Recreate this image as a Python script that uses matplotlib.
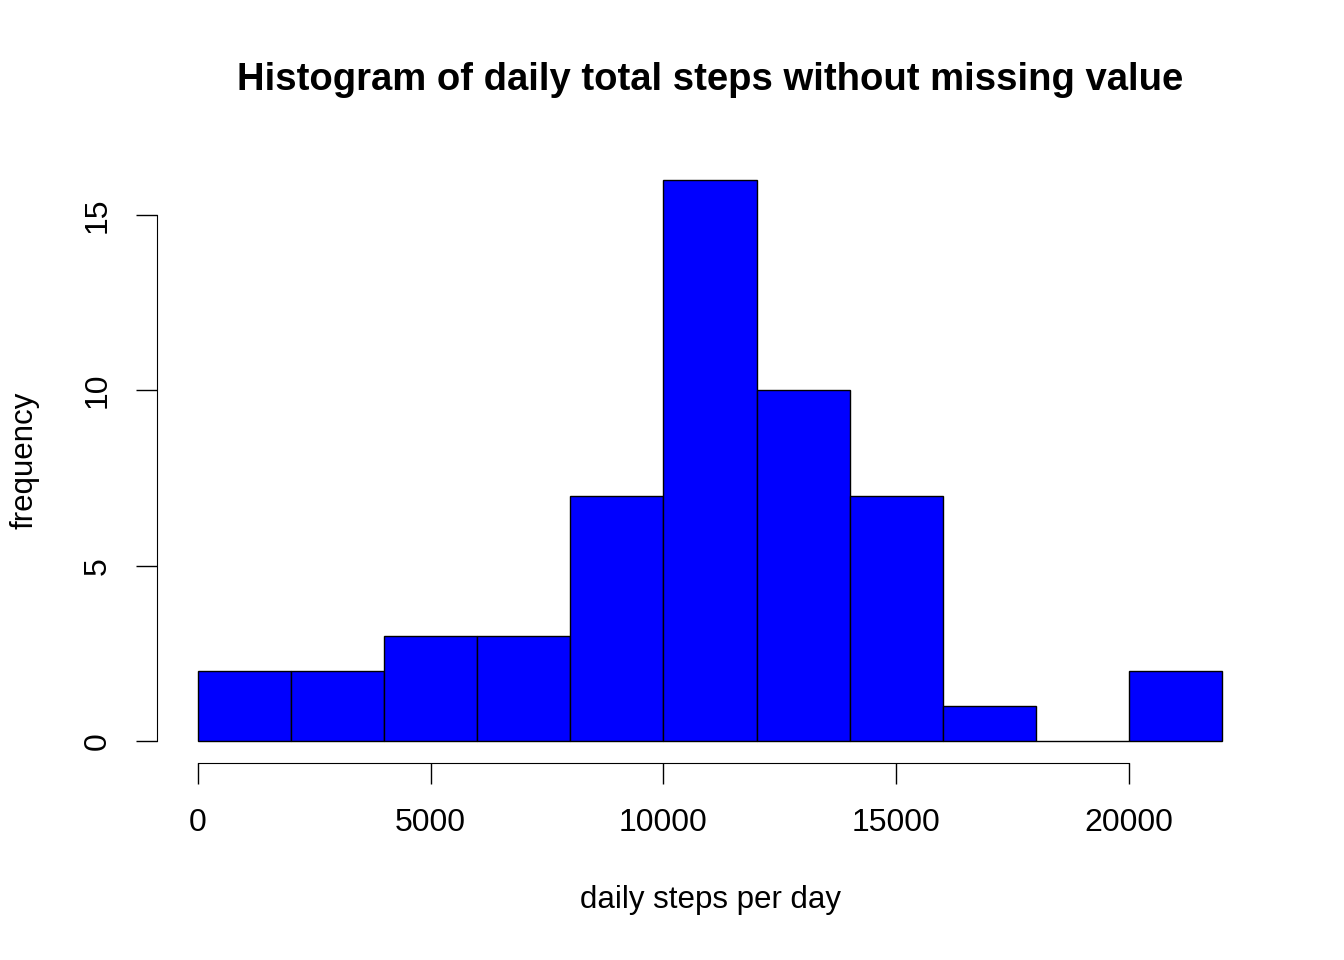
import numpy as np
import matplotlib.pyplot as plt

# histogram bins
bin_edges = [0, 2000, 4000, 6000, 8000, 10000, 12000, 14000, 16000, 18000, 20000, 22000]
counts = [2, 2, 3, 3, 7, 16, 10, 7, 1, 0, 2]

plt.rcParams['font.family'] = ['Liberation Sans', 'DejaVu Sans']
fig = plt.figure(figsize=(13.44, 9.6), dpi=100)
ax = fig.add_axes([157/1344, 1-763.4/960, (1263-157)/1344, (763.4-157.5)/960])

lefts = np.array(bin_edges[:-1])
widths = np.diff(bin_edges)
ax.bar(lefts, counts, width=widths, align='edge', color='blue', edgecolor='black', linewidth=1)

ax.set_xlim(-880, 22880)
ax.set_ylim(-0.64, 16.64)
for s in ['top', 'right']:
    ax.spines[s].set_visible(False)
ax.spines['left'].set_bounds(0, 15)
ax.spines['bottom'].set_bounds(0, 20000)
ax.set_xticks([0, 5000, 10000, 15000, 20000])
ax.set_yticks([0, 5, 10, 15])
ax.tick_params(length=15, width=1, labelsize=23, pad=17)
for lbl in ax.get_yticklabels():
    lbl.set_rotation(90)
    lbl.set_va('center')

fig.text(710/1344, 1-80/960, 'Histogram of daily total steps without missing value',
         ha='center', va='center', fontsize=27.5, fontweight='bold')
fig.text(710/1344, 1-900/960, 'daily steps per day', ha='center', va='center', fontsize=22.5)
fig.text(25/1344, 1-460/960, 'frequency', ha='center', va='center', fontsize=22.5, rotation=90)

plt.savefig('out.png')
plt.close()
